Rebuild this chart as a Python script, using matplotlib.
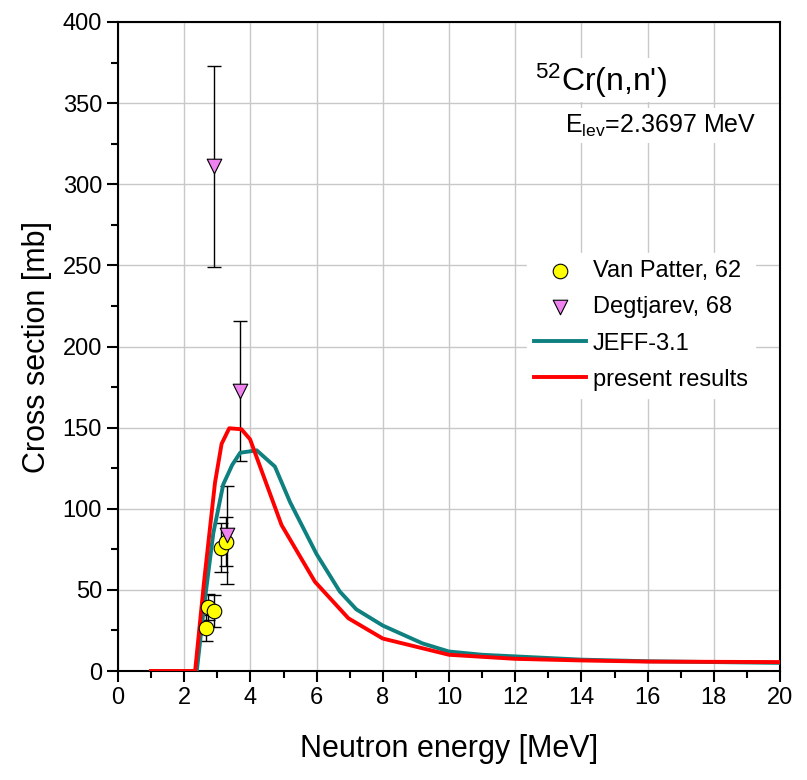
import numpy as np
import matplotlib.pyplot as plt
from matplotlib.ticker import MultipleLocator

plt.rcParams['font.family'] = ['Liberation Sans', 'DejaVu Sans']
plt.rcParams['mathtext.fontset'] = 'custom'
plt.rcParams['mathtext.rm'] = 'Liberation Sans'
plt.rcParams['mathtext.it'] = 'Liberation Sans'

# JEFF-3.1 evaluation
jeff_e = [1.0, 2.38, 2.6, 2.88, 3.18, 3.45, 3.69, 4.19, 4.74, 5.2, 6.0, 6.7, 7.2, 8.0, 9.2, 10.0, 11.0, 12.0, 14.0, 16.0, 20.0]
jeff_xs = [0, 0, 40, 85, 115, 127, 134.5, 136, 126, 104, 72, 49, 38, 28, 17, 12, 10, 9, 7, 6, 5]

# present results
pres_e = [1.0, 2.33, 2.6, 2.93, 3.13, 3.36, 3.73, 3.99, 4.94, 5.95, 6.96, 8.0, 10.0, 12.0, 14.0, 16.0, 20.0]
pres_xs = [0, 0, 55, 116, 140, 149.6, 149, 142.8, 90, 55, 32.5, 20, 10, 7.5, 6.5, 5.8, 5.5]

# Van Patter, 62
vp_e = [2.65, 2.73, 2.91, 3.10, 3.26]
vp_xs = [26.7, 39.6, 37.0, 76.0, 79.7]
vp_err = [8, 8, 10, 15, 15]

# Degtjarev, 68
dg_e = [2.91, 3.30, 3.69]
dg_xs = [311, 83.8, 172.6]
dg_err = [62, 30, 43]

fig = plt.figure(figsize=(8.07, 7.8), dpi=100)
ax = fig.add_axes([118 / 807, 1 - 671 / 780, 662 / 807, 649 / 780])

ax.grid(True, color='#c8c8c8', lw=1.0, zorder=0)

ax.errorbar(vp_e, vp_xs, yerr=vp_err, fmt='none', ecolor='black', elinewidth=1, capsize=5, zorder=3)
ax.errorbar(dg_e, dg_xs, yerr=dg_err, fmt='none', ecolor='black', elinewidth=1, capsize=5, zorder=3)

ax.plot(jeff_e, jeff_xs, color='#0f8080', lw=2.8, label='JEFF-3.1', zorder=4)
ax.plot(pres_e, pres_xs, color='red', lw=2.8, label='present results', zorder=5)

ax.scatter(vp_e, vp_xs, s=110, marker='o', facecolor='yellow', edgecolor='black', lw=0.8,
           label='Van Patter, 62', zorder=6)
ax.scatter(dg_e, dg_xs, s=110, marker='v', facecolor='violet', edgecolor='black', lw=0.8,
           label='Degtjarev, 68', zorder=6)

ax.set_xlim(0, 20)
ax.set_ylim(0, 400)
ax.xaxis.set_major_locator(MultipleLocator(2))
ax.xaxis.set_minor_locator(MultipleLocator(1))
ax.yaxis.set_major_locator(MultipleLocator(50))
ax.yaxis.set_minor_locator(MultipleLocator(25))
ax.tick_params(which='major', direction='out', length=8, width=1.5, labelsize=17)
ax.tick_params(which='minor', direction='out', length=5, width=1.5)
for s in ax.spines.values():
    s.set_linewidth(1.5)

ax.set_xlabel('Neutron energy [MeV]', fontsize=22, labelpad=18)
ax.set_ylabel('Cross section [mb]', fontsize=22, labelpad=8)

handles, labels = ax.get_legend_handles_labels()
order = [2, 3, 0, 1]
leg = ax.legend([handles[i] for i in order], [labels[i] for i in order],
                loc='upper left', bbox_to_anchor=(0.6, 0.662), frameon=True,
                fontsize=17, handlelength=2.2, handletextpad=0.3, labelspacing=0.6,
                borderpad=0.3, fancybox=False)
leg.get_frame().set_edgecolor('white')
leg.get_frame().set_facecolor('white')
leg.get_frame().set_alpha(1)

ax.text(0.63, 0.91, r"$^{52}$Cr(n,n')", transform=ax.transAxes, fontsize=23,
        ha='left', va='center', bbox=dict(facecolor='white', edgecolor='none', pad=2), zorder=7)
ax.text(0.675, 0.84, r'E$_{\rm lev}$=2.3697 MeV', transform=ax.transAxes, fontsize=18,
        ha='left', va='center', bbox=dict(facecolor='white', edgecolor='none', pad=3), zorder=7)

fig.savefig('out.png', dpi=100)
